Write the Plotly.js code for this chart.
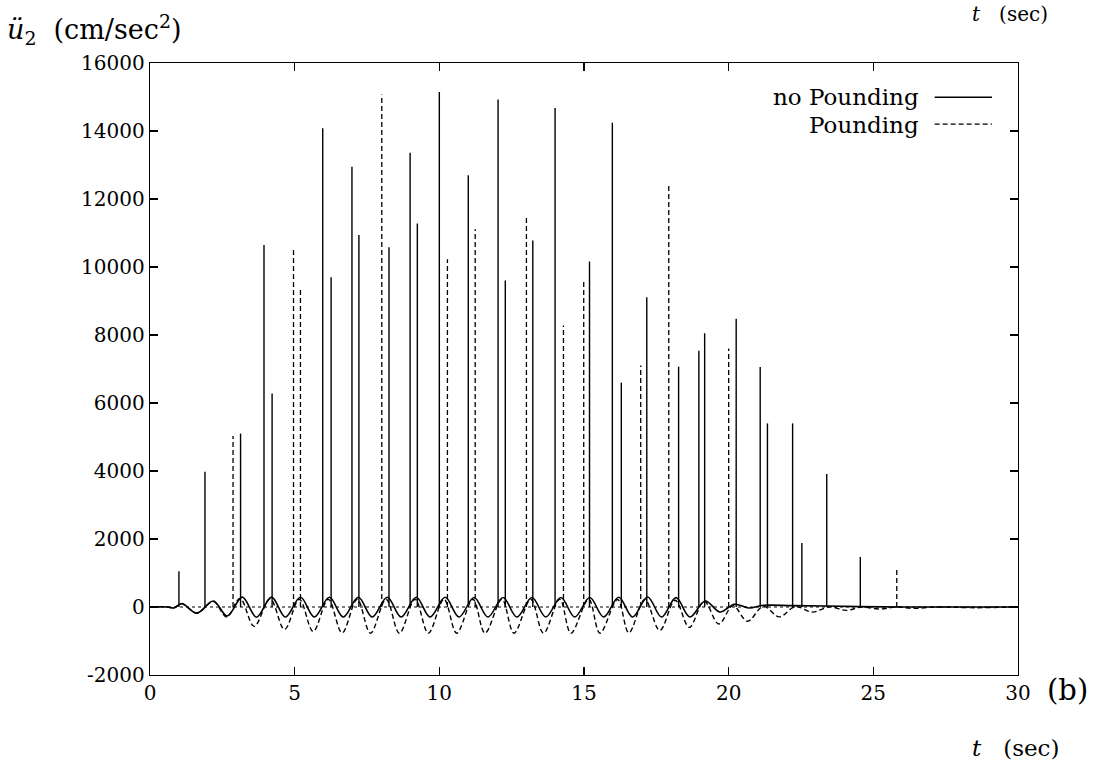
<!DOCTYPE html>
<html>
<head>
<meta charset="utf-8">
<script src="https://cdn.plot.ly/plotly-3.0.1.min.js"></script>
<style>html,body{margin:0;padding:0;background:#fff;}#chart{width:1105px;height:763px;}</style>
</head>
<body>
<div id="chart"></div>
<script>
// ---- Data ----
// Smooth response, no pounding (peaks / troughs)
const noPoundT = [0, 0.6, 0.82, 1.1, 1.62, 2.19, 2.67, 3.19, 3.68, 4.2, 4.68, 5.2, 5.68, 6.2, 6.68, 7.2, 7.68, 8.2, 8.68, 9.2, 9.68, 10.2, 10.68, 11.2, 11.68, 12.2, 12.68, 13.2, 13.68, 14.2, 14.68, 15.2, 15.68, 16.2, 16.68, 17.2, 17.68, 18.18, 18.66, 19.19, 19.7, 20.2, 20.7, 21.2, 22.2, 23.3, 24.5, 26, 28, 30];
const noPoundV = [0, 0, -30, 100, -180, 177, -265, 290, -300, 290, -295, 285, -295, 285, -295, 285, -295, 285, -295, 285, -295, 285, -295, 280, -295, 280, -295, 280, -295, 280, -295, 280, -295, 285, -295, 295, -295, 275, -295, 177, -147, 80, -30, 50, 40, 30, 10, 0, 0, 0];

// Smooth response, pounding
const poundT = [0, 0.6, 0.82, 1.1, 1.62, 2.19, 2.65, 3.11, 3.6, 4.15, 4.65, 5.16, 5.64, 6.16, 6.64, 7.16, 7.62, 8.16, 8.62, 9.16, 9.62, 10.16, 10.6, 11.16, 11.58, 12.16, 12.58, 13.16, 13.6, 14.16, 14.55, 15.16, 15.55, 16.16, 16.55, 17.1, 17.62, 18.15, 18.64, 19.15, 19.66, 20.15, 20.65, 21.2, 21.75, 22.3, 22.9, 23.5, 24.05, 24.6, 25.2, 25.8, 26.4, 27.2, 28.5, 30];
const poundV = [0, 0, -30, 100, -180, 160, -295, 250, -570, 240, -660, 230, -720, 230, -760, 230, -770, 230, -770, 230, -770, 230, -770, 230, -770, 230, -770, 230, -770, 230, -770, 230, -770, 220, -760, 220, -690, 200, -600, 170, -500, 40, -420, 20, -290, 10, -150, 5, -100, 0, -60, 0, -40, 0, -20, 0];

// Impact spikes, no pounding curve
const noPoundSpikeT = [1.00, 1.90, 3.13, 3.94, 4.22, 5.97, 6.26, 6.98, 7.22, 8.26, 8.99, 9.24, 10.00, 11.00, 12.03, 12.28, 13.23, 14.00, 15.19, 15.98, 16.29, 17.17, 18.27, 18.97, 19.17, 20.26, 21.09, 21.34, 22.21, 22.53, 23.39, 24.55];
const noPoundSpikeV = [1050, 3980, 5100, 10650, 6280, 14080, 9700, 12950, 10940, 10580, 13360, 11280, 15150, 12700, 14930, 9600, 10780, 14680, 10160, 14240, 6600, 9110, 7070, 7540, 8050, 8480, 7060, 5400, 5400, 1880, 3910, 1470];

// Impact spikes, pounding curve
const poundSpikeT = [2.87, 4.96, 5.20, 8.01, 10.28, 11.24, 13.01, 14.29, 14.99, 16.96, 17.93, 20.00, 25.81];
const poundSpikeV = [5030, 10520, 9390, 15070, 10230, 11110, 11490, 8280, 9600, 7100, 12450, 7600, 1170];

const xTicks = [0, 5, 10, 15, 20, 25, 30];
const yTicks = [-2000, 0, 2000, 4000, 6000, 8000, 10000, 12000, 14000, 16000];
const seriesNames = ["no Pounding", "Pounding"];

// ---- build spike segments ----
function spikes(ts, vs) {
  const x = [], y = [];
  ts.forEach((t, i) => { x.push(t, t, null); y.push(0, vs[i], null); });
  return {x, y};
}
const s1 = spikes(noPoundSpikeT, noPoundSpikeV);
const s2 = spikes(poundSpikeT, poundSpikeV);

const FONT = "DejaVu Serif";
const dashPat = "5px,3px";

const traces = [
  {x: noPoundT, y: noPoundV, mode: "lines", line: {color: "#000", width: 1.6, shape: "spline", smoothing: 1}, name: seriesNames[0], showlegend: false, hoverinfo: "skip"},
  {x: s1.x, y: s1.y, mode: "lines", line: {color: "#000", width: 1.4}, name: seriesNames[0], showlegend: false, hoverinfo: "skip"},
  {x: poundT, y: poundV, mode: "lines", line: {color: "#000", width: 1.4, dash: dashPat, shape: "spline", smoothing: 1}, name: seriesNames[1], showlegend: false, hoverinfo: "skip"},
  {x: s2.x, y: s2.y, mode: "lines", line: {color: "#000", width: 1.3, dash: dashPat}, name: seriesNames[1], showlegend: false, hoverinfo: "skip"}
];

const axisCommon = {
  showgrid: false, zeroline: false, ticks: "inside", ticklen: 8, tickwidth: 1.2,
  tickcolor: "#000", showline: true, linecolor: "#000", linewidth: 1.3, mirror: "ticks",
  tickfont: {family: FONT, size: 20, color: "#000"}
};

const layout = {
  width: 1105, height: 763,
  margin: {l: 150, r: 87, t: 63, b: 88},
  paper_bgcolor: "#fff", plot_bgcolor: "#fff",
  showlegend: false,
  xaxis: Object.assign({}, axisCommon, {range: [0, 30], tickvals: xTicks, ticktext: xTicks.map(String)}),
  yaxis: Object.assign({}, axisCommon, {range: [-2000, 16000], tickvals: yTicks, ticktext: yTicks.map(String)}),
  shapes: [
    {type: "line", xref: "paper", yref: "y", x0: 0, x1: 1, y0: 0, y1: 0, line: {color: "#000", width: 1, dash: "dot"}, layer: "below"},
    {type: "line", xref: "paper", yref: "paper", x0: 0.904, x1: 0.970, y0: 0.944, y1: 0.944, line: {color: "#000", width: 1.4}},
    {type: "line", xref: "paper", yref: "paper", x0: 0.904, x1: 0.970, y0: 0.900, y1: 0.900, line: {color: "#000", width: 1.3, dash: dashPat}}
  ],
  annotations: [
    {xref: "paper", yref: "paper", x: 0.888, y: 0.944, xanchor: "right", yanchor: "middle", showarrow: false, text: seriesNames[0], font: {family: FONT, size: 23, color: "#000"}},
    {xref: "paper", yref: "paper", x: 0.888, y: 0.898, xanchor: "right", yanchor: "middle", showarrow: false, text: seriesNames[1], font: {family: FONT, size: 23, color: "#000"}},
    {xref: "paper", yref: "paper", x: -0.167, y: 1.054, xanchor: "left", yanchor: "middle", showarrow: false, text: "<i>ü</i><sub>2</sub>  (cm/sec<sup>2</sup>)", font: {family: FONT, size: 27, color: "#000"}},
    {xref: "paper", yref: "paper", x: 0.945, y: -0.120, xanchor: "left", yanchor: "middle", showarrow: false, text: "<i>t</i>   (sec)", font: {family: FONT, size: 23, color: "#000"}},
    {xref: "paper", yref: "paper", x: 1.031, y: -0.024, xanchor: "left", yanchor: "middle", showarrow: false, text: "(b)", font: {family: FONT, size: 29, color: "#000"}},
    {xref: "paper", yref: "paper", x: 0.945, y: 1.1029, xanchor: "left", yanchor: "top", showarrow: false, text: "<i>t</i>   (sec)", font: {family: FONT, size: 20, color: "#000"}}
  ]
};

Plotly.newPlot("chart", traces, layout, {staticPlot: true, displayModeBar: false});
</script>
</body>
</html>
